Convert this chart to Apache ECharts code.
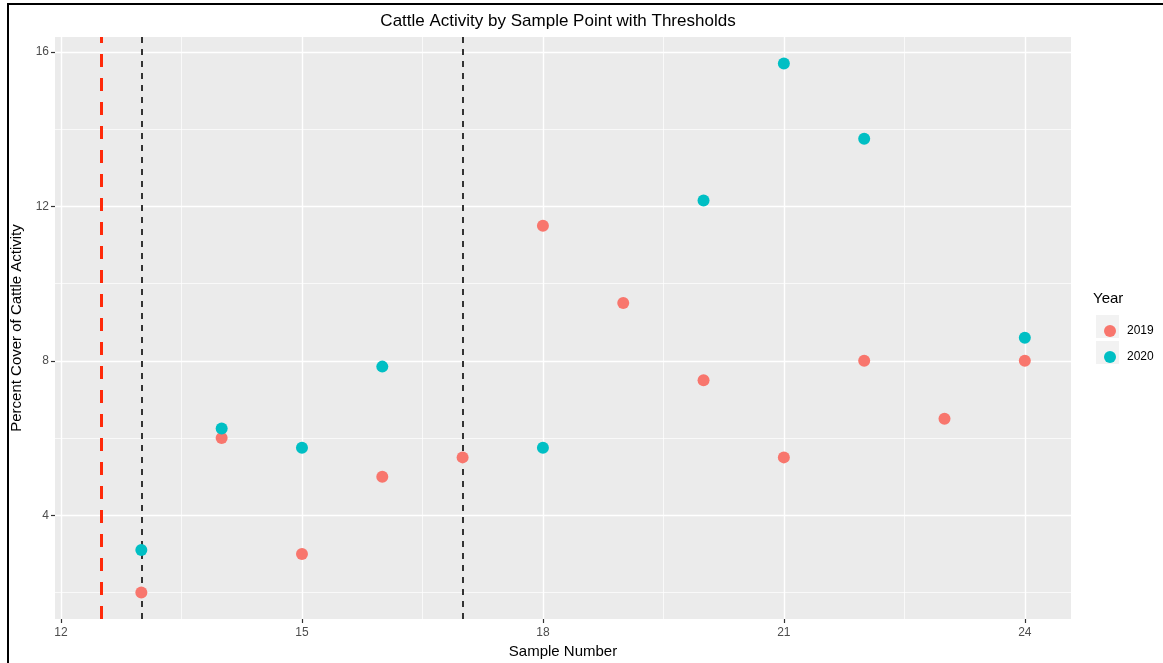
<!DOCTYPE html>
<html>
<head>
<meta charset="utf-8">
<script src="https://cdn.jsdelivr.net/npm/echarts@6/dist/echarts.min.js"></script>
<style>
  html, body { margin: 0; padding: 0; background: #fff; }
  #chart { width: 1163px; height: 663px; }
</style>
</head>
<body>
<div id="chart"></div>
<script>
// Sample points and percent cover of cattle activity per year
const samples2019 = [13, 14, 15, 16, 17, 18, 19, 20, 21, 22, 23, 24];
const cover2019   = [2.0, 6.0, 3.0, 5.0, 5.5, 11.5, 9.5, 7.5, 5.5, 8.0, 6.5, 8.0];
const samples2020 = [13, 14, 15, 16, 18, 20, 21, 22, 24];
const cover2020   = [3.1, 6.25, 5.75, 7.85, 5.75, 12.15, 15.7, 13.75, 8.6];

// Threshold lines
const redThreshold = [12.5];
const blackThresholds = [13, 17];

// Axis breaks
const xMajor = [12, 15, 18, 21, 24];
const xMinor = [13.5, 16.5, 19.5, 22.5];
const yMajor = [4, 8, 12, 16];
const yMinor = [2, 6, 10, 14];
const xRange = [11.925, 24.575];
const yRange = [1.315, 16.385];

const FONT = '"Liberation Sans", Arial, sans-serif';
const chart = echarts.init(document.getElementById('chart'), null, { renderer: 'canvas' });

function vLines(vals, style) {
  return vals.map(v => ({ xAxis: v, lineStyle: style }));
}
function hLines(vals, style) {
  return vals.map(v => ({ yAxis: v, lineStyle: style }));
}
const majorStyle = { color: '#FFFFFF', width: 1.4, type: 'solid' };
const minorStyle = { color: '#FFFFFF', width: 0.7, type: 'solid' };

chart.setOption({
  animation: false,
  backgroundColor: '#FFFFFF',
  title: {
    text: 'Cattle Activity by Sample Point with Thresholds',
    left: 553, top: 8, textAlign: 'center',
    textStyle: { fontFamily: FONT, fontSize: 17, fontWeight: 'normal', color: '#000' }
  },
  grid: {
    left: 55, top: 37, right: 92, bottom: 44,
    outerBoundsMode: 'none', containLabel: false,
    show: true, backgroundColor: '#EBEBEB', borderWidth: 0
  },
  legend: {
    orient: 'vertical', left: 1099, top: 320,
    icon: 'circle', itemWidth: 12, itemHeight: 12, itemGap: 14,
    data: ['2019', '2020'],
    textStyle: { fontFamily: FONT, fontSize: 12, color: '#000', padding: [0, 0, 0, 6] }
  },
  xAxis: {
    type: 'value', min: xRange[0], max: xRange[1],
    name: 'Sample Number', nameLocation: 'middle', nameGap: 24,
    nameTextStyle: { fontFamily: FONT, fontSize: 15, color: '#000' },
    axisLine: { show: false },
    splitLine: { show: false },
    axisTick: { show: true, customValues: xMajor, length: 4, lineStyle: { color: '#333', width: 1.2 } },
    axisLabel: { customValues: xMajor, fontFamily: FONT, fontSize: 12, color: '#4D4D4D', margin: 8 }
  },
  yAxis: {
    type: 'value', min: yRange[0], max: yRange[1],
    name: 'Percent Cover of Cattle Activity', nameLocation: 'middle', nameGap: 14,
    nameTextStyle: { fontFamily: FONT, fontSize: 15, color: '#000' },
    axisLine: { show: false },
    splitLine: { show: false },
    axisTick: { show: true, customValues: yMajor, length: 4, lineStyle: { color: '#333', width: 1.2 } },
    axisLabel: { customValues: yMajor, fontFamily: FONT, fontSize: 12, color: '#4D4D4D', margin: 6 }
  },
  series: [
    {
      name: 'gridlines', type: 'scatter', data: [], silent: true, z: 1,
      markLine: {
        silent: true, symbol: 'none', label: { show: false }, animation: false,
        data: [].concat(
          vLines(xMinor, minorStyle), hLines(yMinor, minorStyle),
          vLines(xMajor, majorStyle), hLines(yMajor, majorStyle)
        )
      }
    },
    {
      name: 'thresholds', type: 'scatter', data: [], silent: true, z: 2,
      markLine: {
        silent: true, symbol: 'none', label: { show: false }, animation: false,
        data: [].concat(
          vLines(redThreshold, { color: '#FF2A0A', width: 3, type: [13, 11] }),
          vLines(blackThresholds, { color: '#333333', width: 2, type: [6, 6] })
        )
      }
    },
    {
      name: '2019', type: 'scatter', z: 5, symbolSize: 12,
      itemStyle: { color: '#F8766D', opacity: 1 },
      data: samples2019.map((s, i) => [s, cover2019[i]])
    },
    {
      name: '2020', type: 'scatter', z: 5, symbolSize: 12,
      itemStyle: { color: '#00BFC4', opacity: 1 },
      data: samples2020.map((s, i) => [s, cover2020[i]])
    }
  ],
  graphic: [
    { type: 'rect', shape: { x: 8, y: 4, width: 1170, height: 680 }, style: { fill: null, stroke: '#000', lineWidth: 2 }, z: 100 },
    { type: 'text', left: 1093, top: 291, style: { text: 'Year', font: '15px ' + FONT, fill: '#000' } },
    { type: 'rect', shape: { x: 1096, y: 315, width: 23, height: 23 }, style: { fill: '#F2F2F2' }, z: -1 },
    { type: 'rect', shape: { x: 1096, y: 341, width: 23, height: 23 }, style: { fill: '#F2F2F2' }, z: -1 }
  ]
});
</script>
</body>
</html>
